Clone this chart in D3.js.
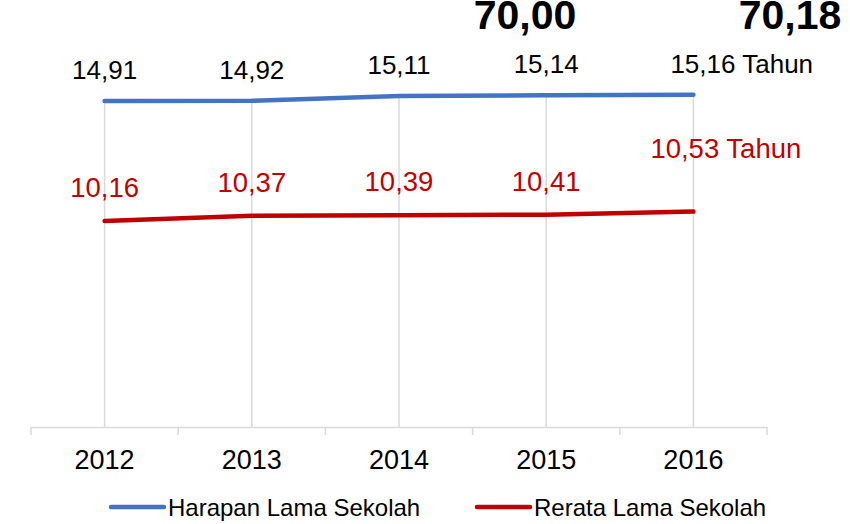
<!DOCTYPE html>
<html>
<head>
<meta charset="utf-8">
<script src="https://cdn.jsdelivr.net/npm/d3@7"></script>
<style>
  body { margin: 0; background: #fff; }
  text { font-family: "Liberation Sans", Arial, sans-serif; }
</style>
</head>
<body>
<div id="chart"></div>
<script>
const years = ["2012", "2013", "2014", "2015", "2016"];
const harapan = [14.91, 14.92, 15.11, 15.14, 15.16];
const rerata = [10.16, 10.37, 10.39, 10.41, 10.53];
const seriesNames = ["Harapan Lama Sekolah", "Rerata Lama Sekolah"];
const topValues = ["70,00", "70,18"];

const width = 850, height = 524;
const blue = "#4472c4", red = "#c00000", grid = "#d9d9d9";

const svg = d3.select("#chart").append("svg")
  .attr("width", width)
  .attr("height", height);

const x = d3.scaleBand().domain(years).range([31, 767]);
const y = d3.scaleLinear().domain([2, 18]).range([427, 23]);
const cx = d => x(d) + x.bandwidth() / 2;
const fmt = v => v.toFixed(2).replace(".", ",");

// drop lines from the top series down to the axis
svg.selectAll("line.drop")
  .data(years)
  .enter().append("line")
  .attr("class", "drop")
  .attr("x1", d => cx(d))
  .attr("x2", d => cx(d))
  .attr("y1", (d, i) => y(harapan[i]))
  .attr("y2", y(2))
  .attr("stroke", grid)
  .attr("stroke-width", 1.5);

// x axis
const axis = svg.append("g")
  .attr("transform", `translate(0,${y(2)})`)
  .call(d3.axisBottom(x).tickSize(0).tickPadding(23));
axis.select(".domain").attr("stroke", grid).attr("stroke-width", 1.5);
axis.selectAll("text")
  .attr("font-size", 27)
  .attr("fill", "#000")
  .style("font-family", "'Liberation Sans', Arial, sans-serif");

const bounds = years.map(d => x(d)).concat([x.range()[1]]);
svg.selectAll("line.tick-mark")
  .data(bounds)
  .enter().append("line")
  .attr("class", "tick-mark")
  .attr("x1", d => d).attr("x2", d => d)
  .attr("y1", y(2)).attr("y2", y(2) + 8)
  .attr("stroke", grid)
  .attr("stroke-width", 1.5);

const line = d3.line()
  .x((d, i) => cx(years[i]))
  .y(d => y(d));

[[harapan, blue], [rerata, red]].forEach(([vals, color]) => {
  svg.append("path")
    .datum(vals)
    .attr("fill", "none")
    .attr("stroke", color)
    .attr("stroke-width", 4.5)
    .attr("stroke-linecap", "round")
    .attr("d", line);
});

// data labels
const last = years.length - 1;
svg.selectAll("text.lbl-h")
  .data(harapan)
  .enter().append("text")
  .attr("class", "lbl-h")
  .attr("x", (d, i) => i === last ? cx(years[i]) - 23 : cx(years[i]))
  .attr("y", d => y(d) - 22)
  .attr("text-anchor", (d, i) => i === last ? "start" : "middle")
  .attr("font-size", 26)
  .attr("fill", "#000")
  .text((d, i) => i === last ? fmt(d) + " Tahun" : fmt(d));

svg.selectAll("text.lbl-r")
  .data(rerata)
  .enter().append("text")
  .attr("class", "lbl-r")
  .attr("x", (d, i) => i === last ? cx(years[i]) - 43 : cx(years[i]))
  .attr("y", (d, i) => i === last ? y(d) - 54 : y(d) - 24)
  .attr("text-anchor", (d, i) => i === last ? "start" : "middle")
  .attr("font-size", 27.5)
  .attr("fill", red)
  .text((d, i) => i === last ? fmt(d) + " Tahun" : fmt(d));

// bold values at the top, partly cut off in the original
svg.selectAll("text.top")
  .data(topValues)
  .enter().append("text")
  .attr("class", "top")
  .attr("x", (d, i) => i === 0 ? 525 : 790)
  .attr("y", 29)
  .attr("text-anchor", "middle")
  .attr("font-size", 41)
  .attr("font-weight", "bold")
  .attr("fill", "#000")
  .text(d => d);

// legend
const legend = svg.selectAll("g.legend")
  .data(seriesNames)
  .enter().append("g")
  .attr("class", "legend")
  .attr("transform", (d, i) => `translate(${i === 0 ? 111 : 477},507)`);
legend.append("line")
  .attr("x1", 0).attr("x2", 53)
  .attr("stroke", (d, i) => i === 0 ? blue : red)
  .attr("stroke-width", 4.5)
  .attr("stroke-linecap", "round");
legend.append("text")
  .attr("x", 57)
  .attr("y", 8.5)
  .attr("font-size", 24)
  .attr("fill", "#000")
  .text(d => d);
</script>
</body>
</html>
